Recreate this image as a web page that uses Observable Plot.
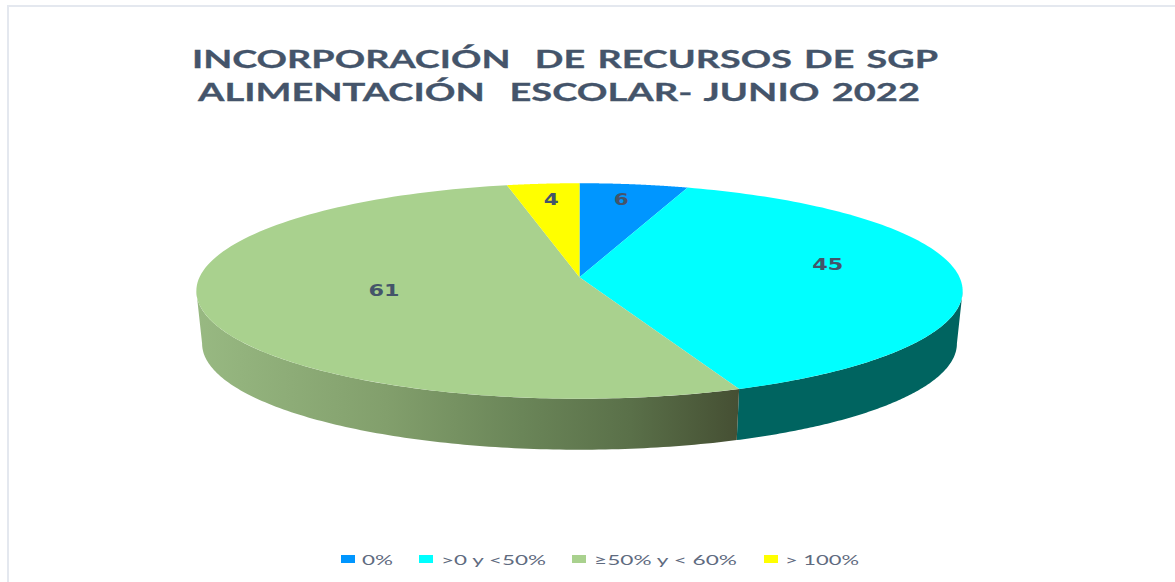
<!DOCTYPE html>
<html lang="es">
<head>
<meta charset="utf-8">
<script src="https://cdn.jsdelivr.net/npm/d3@7"></script>
<script src="https://cdn.jsdelivr.net/npm/@observablehq/plot@0.6"></script>
<style>
  html, body { margin: 0; padding: 0; background: #fff; overflow: hidden; }
  #page { position: relative; width: 1175px; height: 582px; }
  #chart svg { display: block; }
  .fit { position: absolute; white-space: pre; transform-origin: 0 0; line-height: 1; }
  .title { font: 700 25px Lato, sans-serif; color: #44546a; word-spacing: 2px; -webkit-text-stroke: 0.3px #44546a; }
  .legend { font: 400 14px Lato, sans-serif; color: #5f6b80; }
  .swatch { position: absolute; width: 14px; height: 8px; }
  .frame { position: absolute; background: #e4e8ef; }
</style>
</head>
<body>
<div id="page">
  <div class="frame" style="left:7px;top:5px;width:2px;height:577px"></div>
  <div class="frame" style="left:7px;top:5px;width:1168px;height:2px"></div>
  <div id="chart"></div>
</div>
<script>
const titleLines = ["INCORPORACIÓN  DE RECURSOS DE SGP", "ALIMENTACIÓN  ESCOLAR- JUNIO 2022"];
const categories = ["0%", ">0 y <50%", "≥50% y < 60%", "> 100%"];
const values = [6, 45, 61, 4];
const colors = ["#0096ff", "#00ffff", "#a9d18e", "#ffff00"];

// Perspective view of the disc: top face and the lower rim
const cx = 579, cyTop = 276.7, cyBottom = 329.5, radiusX = 380, radiusY = 106, tilt = 0.128, rimScale = 0.985;
const total = d3.sum(values);
const project = (angle, r = 1, cy = cyTop, s = 1) => {
  const u = r * Math.sin(angle), v = -r * Math.cos(angle), w = 1 - tilt * v;
  return {x: cx + s * radiusX * u / w, y: cy + s * radiusY * v / w};
};
let running = 0;
const slices = values.map((value, i) => {
  const start = running / total * 2 * Math.PI;
  running += value;
  return {value, color: colors[i], start, end: running / total * 2 * Math.PI};
});
const arc = (a, b, r, cy, s) => d3.range(0, 121).map(k => project(a + (b - a) * k / 120, r, cy, s));
const wedge = d => [{x: cx, y: cyTop}, ...arc(d.start, d.end)];

// Visible part of the rim starts where the top face is widest
const edgeStart = Math.acos(-tilt), edgeEnd = 2 * Math.PI - edgeStart;
const rim = (a, b) => [...arc(a, b), ...arc(a, b, 1, cyBottom, rimScale).reverse()];
const cyanSlice = slices[1], greenSlice = slices[2];

const labelPlace = [
  {r: 0.78, dy: -3, dx: -2},
  {r: 0.655, dy: -10, dx: 0},
  {r: 0.53, dy: -3, dx: 1},
  {r: 0.78, dy: -3, dx: 1}
];
const labels = slices.map((d, i) => {
  const p = project((d.start + d.end) / 2, labelPlace[i].r);
  return {x: p.x + labelPlace[i].dx, y: p.y + labelPlace[i].dy, text: String(d.value)};
});

const gradient = () => {
  const defs = d3.create("svg:defs");
  const g = defs.append("linearGradient").attr("id", "greenRim").attr("x1", 0).attr("x2", 1).attr("y1", 0).attr("y2", 0);
  [[0, "#98b982"], [0.35, "#829f6c"], [0.6, "#6a8558"], [0.8, "#5a7049"], [1, "#454f33"]].forEach(([o, c]) =>
    g.append("stop").attr("offset", o).attr("stop-color", c));
  return defs.node();
};

const plot = Plot.plot({
  width: 1175, height: 582, margin: 0,
  x: {domain: [0, 1175], range: [0, 1175], axis: null},
  y: {domain: [0, 582], range: [0, 582], axis: null},
  style: {background: "transparent"},
  marks: [
    gradient,
    Plot.line(rim(Math.max(cyanSlice.start, edgeStart), cyanSlice.end), {x: "x", y: "y", fill: "#006460", stroke: "none"}),
    Plot.line(rim(greenSlice.start, edgeEnd), {x: "x", y: "y", fill: "url(#greenRim)", stroke: "none"}),
    ...slices.map(d => Plot.line(wedge(d), {x: "x", y: "y", fill: d.color, stroke: "none"})),
    Plot.text(labels, {x: "x", y: "y", text: "text", fontFamily: "DejaVu Sans", fontWeight: 700, fontSize: 16, fill: "#44546a"})
  ]
});
document.getElementById("chart").append(plot);
// The reference's labels are stretched horizontally
d3.select(plot).selectAll("text").each(function() {
  const length = this.textContent.length === 1 ? 15 : 31;
  this.setAttribute("textLength", length);
  this.setAttribute("lengthAdjust", "spacingAndGlyphs");
});

// Text placed to the reference's stretched widths
const page = document.getElementById("page");
const fitText = (text, cls, left, top, width) => {
  const el = document.createElement("div");
  el.className = "fit " + cls;
  el.textContent = text;
  el.style.left = left + "px";
  el.style.top = top + "px";
  page.append(el);
  el.style.transform = `scaleX(${width / el.getBoundingClientRect().width})`;
};
fitText(titleLines[0], "title", 192, 43, 746);
fitText(titleLines[1], "title", 198, 76, 722);

const legendLayout = [[341, 362, 31], [419, 441, 105], [572, 594, 143], [764, 785, 74]];
categories.forEach((c, i) => {
  const [sw, tx, w] = legendLayout[i];
  const s = document.createElement("div");
  s.className = "swatch";
  s.style.cssText = `left:${sw}px;top:555px;background:${colors[i]}`;
  page.append(s);
  fitText(c, "legend", tx, 551, w);
});
</script>
</body>
</html>
